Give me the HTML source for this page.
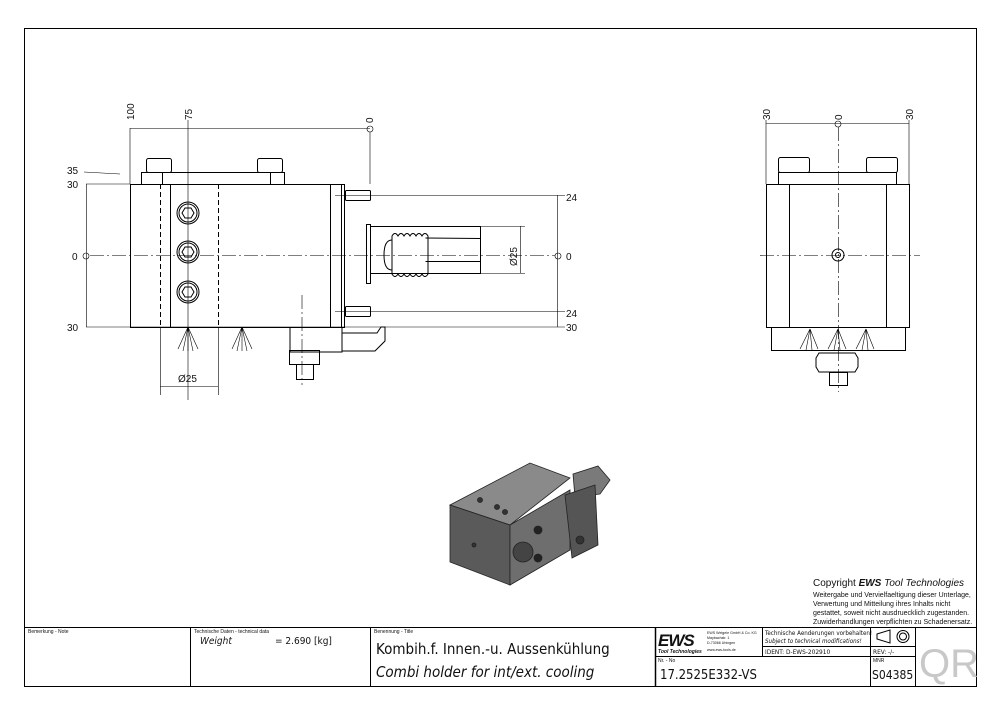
<!DOCTYPE html>
<html><head><meta charset="utf-8"><style>
html,body{margin:0;padding:0;background:#fff;}
svg{display:block;}
text{font-family:"Liberation Sans",sans-serif;fill:#111;}
.t{font-family:"DejaVu Sans Condensed","Liberation Sans",sans-serif;}
</style></head><body>
<svg width="1000" height="715" viewBox="0 0 1000 715" xmlns="http://www.w3.org/2000/svg">
<g fill="none" stroke="#000" stroke-width="1">
<rect x="24.5" y="28.5" width="952" height="658"/>
<line x1="24" y1="627.5" x2="977" y2="627.5"/>
<line x1="190.5" y1="627" x2="190.5" y2="687"/>
<line x1="370.5" y1="627" x2="370.5" y2="687"/>
<line x1="655.5" y1="627" x2="655.5" y2="687" stroke-width="1.5"/>
<line x1="762.5" y1="627" x2="762.5" y2="656"/>
<line x1="870.5" y1="627" x2="870.5" y2="687"/>
<line x1="915.5" y1="627" x2="915.5" y2="687"/>
<line x1="655" y1="656.5" x2="915" y2="656.5"/>
<line x1="762" y1="646.5" x2="915" y2="646.5"/>
</g>
<text x="28" y="633" font-size="5">Bemerkung - Note</text>
<text x="194" y="633" font-size="5">Technische Daten - technical data</text>
<text x="374" y="633" font-size="5">Benennung - Title</text>
<text class="t" x="200" y="644" font-size="10" font-style="italic">Weight</text>
<text class="t" x="275" y="644" font-size="10">=  2.690 [kg]</text>
<text class="t" x="376" y="654" font-size="15">Kombih.f. Innen.-u. Aussenkühlung</text>
<text class="t" x="376" y="677" font-size="15" font-style="italic">Combi holder for int/ext. cooling</text>
<text x="658" y="646" font-size="17" font-weight="bold" font-style="italic" letter-spacing="-1">EWS</text>
<text x="658" y="653" font-size="5" font-weight="bold" font-style="italic">Tool Technologies</text>
<text x="707" y="634" font-size="3.6">EWS Weigele GmbH &amp; Co. KG</text>
<text x="707" y="639" font-size="3.6">Maybachstr. 1</text>
<text x="707" y="644" font-size="3.6">D-73066 Uhingen</text>
<text x="707" y="651" font-size="3.6">www.ews-tools.de</text>
<text class="t" x="765" y="635" font-size="6.2">Technische Aenderungen vorbehalten!</text>
<text class="t" x="765" y="643" font-size="6.2" font-style="italic">Subject to technical modifications!</text>
<text class="t" x="765" y="654" font-size="6.5">IDENT:  D-EWS-202910</text>
<text class="t" x="873" y="654" font-size="6.5">REV:  -/-</text>
<text x="658" y="662" font-size="5">Nr. - No</text>
<text x="873" y="662" font-size="5">MNR</text>
<text class="t" x="660" y="679" font-size="13">17.2525E332-VS</text>
<text class="t" x="872" y="679" font-size="12">S04385</text>
<text x="919" y="677" font-size="40" style="fill:#c8c8c8">QR</text>
<g fill="none" stroke="#000" stroke-width="1">
<path d="M877 634 L890 630 L890 643 L877 639 Z"/>
<circle cx="903" cy="636.5" r="6"/><circle cx="903" cy="636.5" r="3.5"/>
</g>
<text x="813" y="586" font-size="10">Copyright <tspan font-weight="bold" font-style="italic">EWS</tspan><tspan font-style="italic"> Tool Technologies</tspan></text>
<text x="813" y="597" font-size="7">Weitergabe und Vervielfaeltigung dieser Unterlage,</text>
<text x="813" y="606" font-size="7">Verwertung und Mitteilung ihres Inhalts nicht</text>
<text x="813" y="615" font-size="7">gestattet, soweit nicht ausdruecklich zugestanden.</text>
<text x="813" y="624" font-size="7">Zuwiderhandlungen verpflichten zu Schadenersatz.</text>

<!-- MAIN VIEW -->
<g fill="none" stroke="#000" stroke-width="1">
<rect x="130.5" y="184.5" width="211" height="143"/>
<line x1="170.5" y1="184" x2="170.5" y2="327"/>
<line x1="330.5" y1="184" x2="330.5" y2="327"/>
<rect x="341.5" y="184.5" width="3" height="143"/>
<line x1="160.5" y1="184" x2="160.5" y2="327" stroke-dasharray="5,3"/>
<line x1="218.5" y1="184" x2="218.5" y2="327" stroke-dasharray="5,3"/>
<rect x="141.5" y="172.5" width="143" height="12"/>
<line x1="162.5" y1="172" x2="162.5" y2="184"/><line x1="270.5" y1="172" x2="270.5" y2="184"/>
<rect x="146.5" y="158.5" width="25" height="14" rx="2"/>
<rect x="257.5" y="158.5" width="25" height="14" rx="2"/>
<rect x="345.5" y="190.5" width="25" height="10" rx="1"/>
<rect x="345.5" y="306.5" width="25" height="10" rx="1"/>
<rect x="366.5" y="224.5" width="4" height="59"/>
<rect x="370.5" y="226.5" width="110" height="47"/>
<line x1="425.5" y1="238" x2="480" y2="238.5"/><line x1="425.5" y1="261.5" x2="480" y2="261.5"/>
<path d="M392 240 q-8 0 -8 15 q0 15 8 15"/>
<path d="M392 236 q3 -5 6 0 q3 -5 6 0 q3 -5 6 0 q3 -5 6 0 q3 -5 6 0 q3 -5 6 0 l0 38 q-3 5 -6 0 q-3 5 -6 0 q-3 5 -6 0 q-3 5 -6 0 q-3 5 -6 0 q-3 5 -6 0 Z"/>
<g>
<circle cx="188" cy="213" r="11"/><circle cx="188" cy="213" r="9"/><path d="M182 213 l3 -5 6 0 3 5 -3 5 -6 0 z"/>
<circle cx="188" cy="252" r="11"/><circle cx="188" cy="252" r="9"/><path d="M182 252 l3 -5 6 0 3 5 -3 5 -6 0 z"/>
<circle cx="188" cy="292" r="11"/><circle cx="188" cy="292" r="9"/><path d="M182 292 l3 -5 6 0 3 5 -3 5 -6 0 z"/>
</g>
<path d="M290 327 v25 h52 v-25"/>
<path d="M342 333 h35 l4 -6 h4 v14 l-10 10 h-33"/>
<rect x="289.5" y="350.5" width="30" height="14"/>
<rect x="296.5" y="364.5" width="17" height="15"/>
<g stroke-width="0.6">
<path d="M188 327 l-10 22 M188 327 l-5 24 M188 327 l0 24 M188 327 l5 24 M188 327 l10 22"/>
<path d="M242 327 l-10 22 M242 327 l-5 24 M242 327 l0 24 M242 327 l5 24 M242 327 l10 22"/>
</g>
</g>
<g fill="none" stroke="#000" stroke-width="0.6">
<line x1="130" y1="128" x2="130" y2="184"/><line x1="188" y1="120" x2="188" y2="400"/>
<line x1="130" y1="128.5" x2="370" y2="128.5"/><circle cx="370" cy="129" r="3"/>
<line x1="370" y1="132" x2="370" y2="184"/>
<line x1="86" y1="184" x2="130" y2="184"/><line x1="86" y1="327" x2="565" y2="327"/>
<line x1="84" y1="172" x2="120" y2="174"/>
<line x1="86.5" y1="184" x2="86.5" y2="327"/><circle cx="86" cy="256" r="3"/>
<line x1="335" y1="195.5" x2="565" y2="195.5"/><line x1="335" y1="311.5" x2="565" y2="311.5"/>
<line x1="557.5" y1="195" x2="557.5" y2="327"/><circle cx="558" cy="256" r="3"/>
<line x1="480" y1="226.5" x2="525" y2="226.5"/><line x1="480" y1="273.5" x2="525" y2="273.5"/>
<line x1="520.5" y1="226" x2="520.5" y2="273"/>
<line x1="160.5" y1="327" x2="160.5" y2="395"/><line x1="218.5" y1="327" x2="218.5" y2="395"/>
<line x1="160" y1="386.5" x2="218" y2="386.5"/>
<line x1="90" y1="255.5" x2="555" y2="255.5" stroke-dasharray="14,3,2,3"/>
<line x1="302" y1="295" x2="302" y2="385" stroke-dasharray="14,3,2,3"/>
</g>
<g font-size="10" class="t">
<text x="67" y="174">35</text><text x="67" y="188">30</text><text x="72" y="260">0</text><text x="67" y="331">30</text>
<text x="566" y="201">24</text><text x="566" y="260">0</text><text x="566" y="317">24</text><text x="566" y="331">30</text>
<text x="178" y="382">Ø25</text>
<text transform="translate(134,120) rotate(-90)">100</text>
<text transform="translate(192,120) rotate(-90)">75</text>
<text transform="translate(373,123) rotate(-90)">0</text>
<text transform="translate(517,266) rotate(-90)">Ø25</text>
</g>

<!-- RIGHT VIEW -->
<g fill="none" stroke="#000" stroke-width="1">
<rect x="766.5" y="184.5" width="143" height="143"/>
<line x1="789.5" y1="184" x2="789.5" y2="327"/><line x1="886.5" y1="184" x2="886.5" y2="327"/>
<rect x="778.5" y="172.5" width="118" height="12"/>
<rect x="778.5" y="157.5" width="31" height="15" rx="2"/>
<rect x="866.5" y="157.5" width="31" height="15" rx="2"/>
<rect x="771.5" y="327.5" width="134" height="23"/>
<path d="M819 353 h36 l3 5 v9 l-3 5 h-36 l-3 -5 v-9 z"/>
<rect x="829.5" y="372.5" width="18" height="13"/>
<circle cx="838" cy="255" r="6"/><circle cx="838" cy="255" r="2.5"/>
<g stroke-width="0.6">
<path d="M810 329 l-10 20 M810 329 l-4 21 M810 329 l2 21 M810 329 l8 20"/>
<path d="M838 329 l-10 20 M838 329 l-4 21 M838 329 l2 21 M838 329 l8 20"/>
<path d="M866 329 l-10 20 M866 329 l-4 21 M866 329 l2 21 M866 329 l8 20"/>
</g>
</g>
<g fill="none" stroke="#000" stroke-width="0.6">
<line x1="766" y1="120" x2="766" y2="184"/><line x1="909" y1="120" x2="909" y2="184"/>
<line x1="766" y1="123.5" x2="909" y2="123.5"/><circle cx="838" cy="124" r="3"/>
<line x1="838.5" y1="127" x2="838.5" y2="392" stroke-dasharray="14,3,2,3"/>
<line x1="760" y1="255.5" x2="920" y2="255.5" stroke-dasharray="14,3,2,3"/>
</g>
<g font-size="10" class="t">
<text transform="translate(770,120) rotate(-90)">30</text>
<text transform="translate(842,120) rotate(-90)">0</text>
<text transform="translate(913,120) rotate(-90)">30</text>
</g>

<!-- ISO VIEW -->
<g stroke="#222" stroke-width="0.8">
<polygon points="573,474 598,466 610,480 600,494 575,497" fill="#7a7a7a"/>
<polygon points="450,505 530,463 570,478 510,525" fill="#8a8a8a"/>
<polygon points="450,505 510,525 510,585 450,562" fill="#5a5a5a"/>
<polygon points="510,525 570,490 570,550 510,585" fill="#6e6e6e"/>
<polygon points="565,495 595,485 598,545 572,558" fill="#555"/>
<circle cx="523" cy="552" r="10" fill="#444"/>
<circle cx="538" cy="530" r="4" fill="#222"/><circle cx="538" cy="558" r="4" fill="#222"/>
<circle cx="580" cy="540" r="4" fill="#333"/>
<circle cx="497" cy="507" r="2.5" fill="#333"/><circle cx="505" cy="512" r="2.5" fill="#333"/><circle cx="480" cy="500" r="2.5" fill="#333"/>
<circle cx="474" cy="545" r="2" fill="#333"/>
</g>
</svg>
</body></html>
